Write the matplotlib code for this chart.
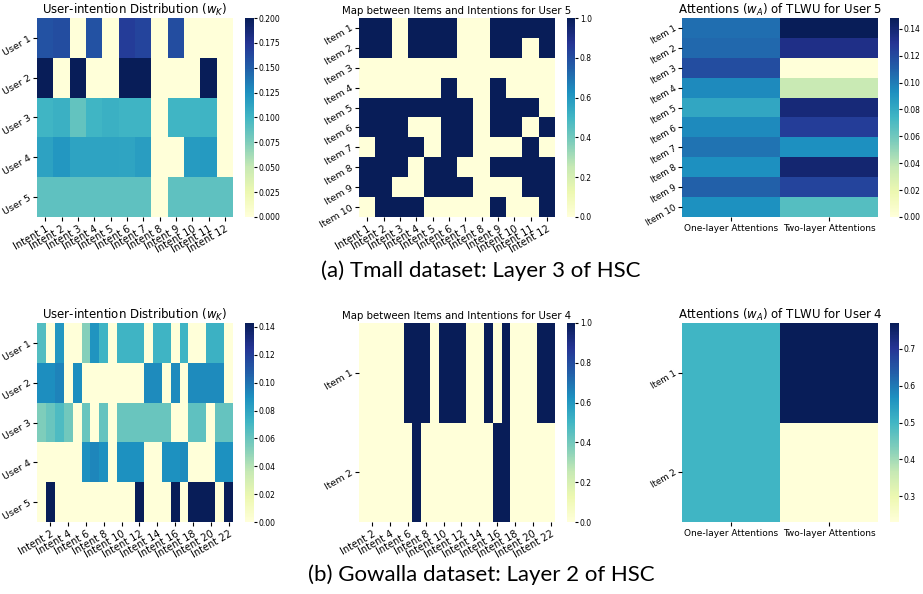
import numpy as np
import matplotlib.pyplot as plt
import seaborn as sns

# ---- Tmall, layer 3 ----
tm_users = ['User %d' % i for i in range(1, 6)]
tm_intents = ['Intent %d' % i for i in range(1, 13)]
tm_items = ['Item %d' % i for i in range(1, 11)]

tm_wk = np.array([
    [0.157, 0.160, 0.000, 0.157, 0.000, 0.170, 0.165, 0.000, 0.160, 0.000, 0.000, 0.000],
    [0.200, 0.000, 0.200, 0.000, 0.000, 0.200, 0.200, 0.000, 0.000, 0.000, 0.200, 0.000],
    [0.100, 0.104, 0.086, 0.100, 0.104, 0.101, 0.101, 0.000, 0.100, 0.100, 0.101, 0.000],
    [0.114, 0.121, 0.113, 0.113, 0.113, 0.112, 0.117, 0.000, 0.000, 0.118, 0.119, 0.000],
    [0.088, 0.088, 0.088, 0.088, 0.088, 0.088, 0.088, 0.000, 0.088, 0.088, 0.088, 0.088],
])

tm_map = np.array([
    [1, 1, 0, 1, 1, 1, 0, 0, 1, 1, 1, 1],
    [1, 1, 0, 1, 1, 1, 0, 0, 1, 1, 0, 1],
    [0, 0, 0, 0, 0, 0, 0, 0, 0, 0, 0, 0],
    [0, 0, 0, 0, 0, 1, 0, 0, 1, 0, 0, 0],
    [1, 1, 1, 1, 1, 1, 1, 0, 1, 1, 1, 0],
    [1, 1, 1, 0, 0, 1, 1, 0, 1, 1, 0, 1],
    [0, 1, 1, 1, 0, 1, 1, 0, 0, 0, 1, 0],
    [1, 1, 1, 0, 1, 1, 0, 0, 1, 1, 1, 1],
    [1, 1, 0, 0, 1, 1, 1, 0, 0, 0, 1, 1],
    [0, 1, 1, 1, 0, 0, 0, 0, 1, 0, 0, 1],
])

tm_one_layer = [0.105, 0.107, 0.118, 0.095, 0.082, 0.095, 0.103, 0.093, 0.110, 0.092]
tm_two_layer = [0.148, 0.133, 0.000, 0.036, 0.138, 0.125, 0.093, 0.140, 0.122, 0.068]

# ---- Gowalla, layer 2 ----
gw_users = ['User %d' % i for i in range(1, 6)]
gw_items = ['Item 1', 'Item 2']
gw_ticklabels = ['Intent %d' % i for i in range(2, 23, 2)]

gw_wk = np.array([
    [0.066, 0.000, 0.086, 0.000, 0.000, 0.052, 0.088, 0.072, 0.000, 0.072, 0.072, 0.072,
     0.000, 0.072, 0.072, 0.000, 0.072, 0.000, 0.000, 0.074, 0.074, 0.000],
    [0.090, 0.090, 0.094, 0.000, 0.090, 0.000, 0.000, 0.000, 0.000, 0.000, 0.000, 0.000,
     0.091, 0.091, 0.000, 0.091, 0.000, 0.091, 0.091, 0.091, 0.091, 0.000],
    [0.054, 0.060, 0.068, 0.058, 0.000, 0.060, 0.000, 0.061, 0.000, 0.060, 0.060, 0.060,
     0.060, 0.060, 0.060, 0.000, 0.000, 0.063, 0.063, 0.000, 0.061, 0.061],
    [0.000, 0.000, 0.000, 0.000, 0.000, 0.089, 0.093, 0.089, 0.000, 0.089, 0.089, 0.089,
     0.000, 0.000, 0.089, 0.089, 0.091, 0.000, 0.000, 0.000, 0.089, 0.089],
    [0.000, 0.143, 0.000, 0.000, 0.000, 0.000, 0.000, 0.000, 0.000, 0.000, 0.000, 0.143,
     0.000, 0.000, 0.000, 0.143, 0.000, 0.143, 0.143, 0.143, 0.000, 0.143],
])

gw_map = np.array([
    [0, 0, 0, 0, 0, 1, 1, 1, 0, 1, 1, 1, 0, 0, 1, 0, 1, 0, 0, 0, 1, 1],
    [0, 0, 0, 0, 0, 0, 1, 0, 0, 0, 0, 0, 0, 0, 0, 1, 1, 0, 0, 0, 0, 0],
])

gw_one_layer = [0.50, 0.50]
gw_two_layer = [0.77, 0.23]

att_labels = ['One-layer Attentions', 'Two-layer Attentions']

W, H = 923, 594
fig = plt.figure(figsize=(W / 100, H / 100), dpi=100)

def box(x0, x1, y0, y1):
    # pixel box -> figure fraction [left, bottom, width, height]
    return [x0 / W, 1 - y1 / H, (x1 - x0) / W, (y1 - y0) / H]

cmap = 'YlGnBu'
cols_x = [(37, 233, 245, 254), (359, 555, 567, 575), (682, 878, 890, 899)]
rows_y = [(18, 217), (323, 522)]

def panel(data, col, row, vmin, vmax, title, title_size, cticks=None):
    x0, x1, c0, c1 = cols_x[col]
    y0, y1 = rows_y[row]
    ax = fig.add_axes(box(x0, x1, y0, y1))
    cax = fig.add_axes(box(c0, c1, y0, y1))
    sns.heatmap(data, ax=ax, cbar_ax=cax, cmap=cmap, vmin=vmin, vmax=vmax,
                xticklabels=False, yticklabels=False)
    ax.set_title(title, fontsize=title_size, pad=3)
    cax.tick_params(labelsize=5.5, length=2, width=0.8, pad=1.5)
    if cticks is not None:
        cax.set_yticks(cticks)
    return ax

def intent_axis(ax, pos, labels):
    ax.set_xticks(pos)
    ax.set_xticklabels(labels, rotation=30, ha='right', fontsize=7,
                       rotation_mode='anchor')
    ax.tick_params(axis='x', length=3, width=0.8, pad=2)

def row_axis(ax, labels, size=6.8):
    ax.set_yticks(np.arange(len(labels)) + 0.5)
    ax.set_yticklabels(labels, rotation=30, fontsize=size, va='center',
                       ha='right', rotation_mode='anchor')
    ax.tick_params(axis='y', length=3, width=0.8, pad=1.5)

# (a) Tmall
ax = panel(tm_wk, 0, 0, 0, 0.2, r'User-intention Distribution ($w_K$)', 8.5)
intent_axis(ax, np.arange(12) + 0.5, tm_intents)
row_axis(ax, tm_users)

ax = panel(tm_map, 1, 0, 0, 1, 'Map between Items and Intentions for User 5', 7.3)
intent_axis(ax, np.arange(12) + 0.5, tm_intents)
row_axis(ax, tm_items, 6.8)

ax = panel(np.column_stack([tm_one_layer, tm_two_layer]), 2, 0, 0, 0.148,
           r'Attentions ($w_A$) of TLWU for User 5', 8.5,
           cticks=[0, 0.02, 0.04, 0.06, 0.08, 0.10, 0.12, 0.14])
ax.set_xticks([0.5, 1.5])
ax.set_xticklabels(att_labels, fontsize=6.5)
ax.tick_params(axis='x', length=3, width=0.8, pad=2)
row_axis(ax, tm_items, 6.3)

# (b) Gowalla
ax = panel(gw_wk, 0, 1, 0, 1 / 7, r'User-intention Distribution ($w_K$)', 8.5)
intent_axis(ax, np.arange(1, 22, 2) + 0.5, gw_ticklabels)
row_axis(ax, gw_users)

ax = panel(gw_map, 1, 1, 0, 1, 'Map between Items and Intentions for User 4', 7.3)
intent_axis(ax, np.arange(1, 22, 2) + 0.5, gw_ticklabels)
row_axis(ax, gw_items, 6.8)

ax = panel(np.column_stack([gw_one_layer, gw_two_layer]), 2, 1, 0.23, 0.77,
           r'Attentions ($w_A$) of TLWU for User 4', 8.5,
           cticks=[0.3, 0.4, 0.5, 0.6, 0.7])
ax.set_xticks([0.5, 1.5])
ax.set_xticklabels(att_labels, fontsize=6.5)
ax.tick_params(axis='x', length=3, width=0.8, pad=2)
row_axis(ax, gw_items, 6.3)

fig.text(0.521, 1 - 271 / H, '(a) Tmall dataset: Layer 3 of HSC', family='Lato',
         fontsize=16, ha='center', va='center')
fig.text(0.522, 1 - 575 / H, '(b) Gowalla dataset: Layer 2 of HSC', family='Lato',
         fontsize=16, ha='center', va='center')

fig.savefig('out.png', dpi=100)
